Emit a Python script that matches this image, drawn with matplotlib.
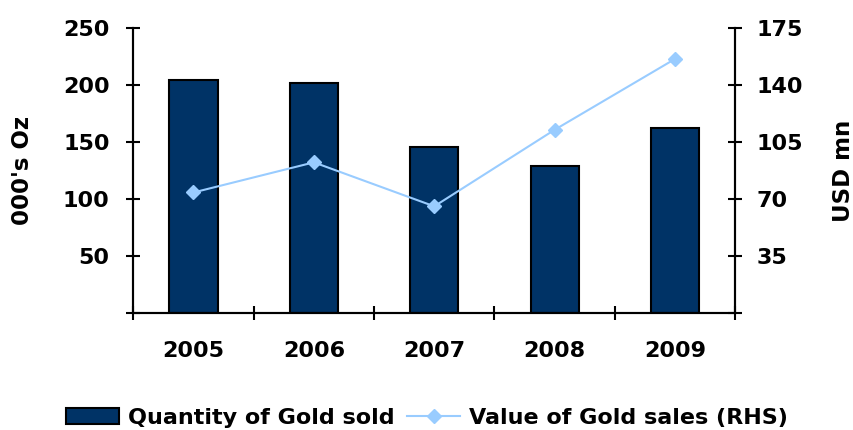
import numpy as np
import matplotlib
matplotlib.use("Agg")
import matplotlib.pyplot as plt

years = ["2005", "2006", "2007", "2008", "2009"]
gold_qty = [204, 202, 146, 129, 162]          # 000's Oz
gold_value = [74, 92.5, 65.5, 112.5, 156]     # USD mn (RHS)

plt.rcParams['font.family'] = ['DejaVu Sans']
plt.rcParams['font.weight'] = 'bold'

fig = plt.figure(figsize=(8.54, 4.30), dpi=100)
ax = fig.add_axes([0.156, 0.272, 0.705, 0.663])
ax2 = ax.twinx()

x = np.arange(len(years))
bars = ax.bar(x, gold_qty, width=0.4, color="#003366", edgecolor="black",
              linewidth=1.5, label="Quantity of Gold sold", zorder=2)
line, = ax2.plot(x, gold_value, color="#99CCFF", marker="D", markersize=7,
                 linewidth=1.5, label="Value of Gold sales (RHS)")

ax.set_xlim(-0.5, len(years) - 0.5)
ax.set_ylim(0, 250)
ax2.set_ylim(0, 175)

ax.set_yticks([50, 100, 150, 200, 250])
ax.set_yticks([0], minor=True)
ax2.set_yticks([35, 70, 105, 140, 175])
ax2.set_yticks([0], minor=True)

# category ticks sit between the bars, labels under the bars
ax.set_xticks(np.arange(len(years) + 1) - 0.5)
ax.set_xticklabels([])
ax.set_xticks(x, minor=True)
ax.set_xticklabels(years, minor=True, fontsize=16, fontweight="bold")
ax.tick_params(axis="x", which="major", direction="inout", length=10, width=1.5)
ax.tick_params(axis="x", which="minor", length=0, pad=20)

ax.tick_params(axis="y", which="both", direction="inout", length=10, width=1.5,
               labelsize=16, pad=12)
ax2.tick_params(axis="y", which="both", direction="inout", length=10, width=1.5,
                labelsize=16, pad=10)
for lab in ax.get_yticklabels() + ax2.get_yticklabels():
    lab.set_fontweight("bold")

for a in (ax, ax2):
    a.spines["top"].set_visible(False)
    for s in ("left", "right", "bottom"):
        a.spines[s].set_linewidth(1.5)

ax.set_ylabel("000's Oz", fontsize=16.5, fontweight="bold")
ax2.set_ylabel("USD mn", fontsize=16.5, fontweight="bold")
ax.yaxis.set_label_coords(-0.164, 0.5)
ax2.yaxis.set_label_coords(1.161, 0.5)

fig.legend([bars, line], ["Quantity of Gold sold", "Value of Gold sales (RHS)"],
           loc="center", bbox_to_anchor=(0.5, 0.028), ncol=2, frameon=False,
           prop={"weight": "bold", "size": 16},
           handlelength=2.4, columnspacing=0.55, handletextpad=0.4,
           borderpad=0.1)

plt.savefig("out.png", dpi=100)
